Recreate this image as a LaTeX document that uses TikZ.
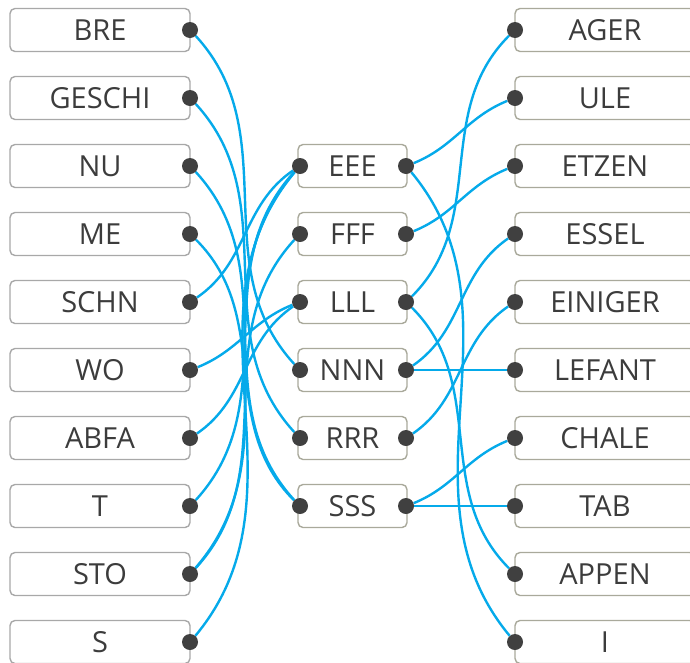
\documentclass[tikz,border=0pt]{standalone}
\usepackage{fontspec}
\setmainfont{Open Sans}
\definecolor{linec}{HTML}{05AAEA}
\definecolor{dotc}{HTML}{404040}
\definecolor{lgray}{HTML}{A8A8A8}
\definecolor{ogray}{HTML}{A9A99B}
\definecolor{txt}{HTML}{3C3C3C}
\pgfdeclarelayer{bg}
\pgfsetlayers{bg,main}
\tikzset{
  boxbase/.style={rounded corners=5pt, line width=1.4pt, minimum height=43pt, inner sep=0pt, text=txt, font=\fontsize{29}{32}\selectfont},
  lbox/.style={boxbase, draw=lgray, minimum width=180pt},
  mbox/.style={boxbase, draw=ogray, minimum width=109pt},
  rbox/.style={boxbase, draw=ogray, minimum width=180pt},
  dotn/.style={circle, fill=dotc, minimum size=16pt, inner sep=0pt},
  conn/.style={draw=linec, line width=2.4pt},
}
\newcommand\lnk[2]{%
  \path (#1); \pgfgetlastxy\lkxa\lkya
  \path (#2); \pgfgetlastxy\lkxb\lkyb
  \pgfmathsetmacro\lkang{atan2(\lkyb-\lkya,\lkxb-\lkxa)}%
  \pgfmathsetmacro\lkout{-0.36*\lkang}%
  \pgfmathsetmacro\lkin{180-0.36*\lkang}%
  \draw[conn] (#1) to[out=\lkout,in=\lkin,relative] (#2);%
}
\begin{document}
\begin{tikzpicture}[x=1pt,y=-1pt]
\useasboundingbox (0,0) rectangle (690,662);
\clip (0,0) rectangle (690,662);
\foreach \t [count=\i from 0] in {BRE,GESCHI,NU,ME,SCHN,WO,ABFA,T,STO,S} {
  \node[lbox] (L\i) at (100,30+68*\i) {\t};
  \node[dotn] (Ld\i) at (190,30+68*\i) {};
}
\foreach \t [count=\i from 2] in {EEE,FFF,LLL,NNN,RRR,SSS} {
  \node[mbox] (M\i) at (352.5,30+68*\i) {\t};
  \node[dotn] (Ma\i) at (300,30+68*\i) {};
  \node[dotn] (Mb\i) at (406,30+68*\i) {};
}
\foreach \t [count=\i from 0] in {AGER,ULE,ETZEN,ESSEL,EINIGER,LEFANT,CHALE,TAB,APPEN,I} {
  \node[rbox] (R\i) at (605,30+68*\i) {\t};
  \node[dotn] (Rd\i) at (515,30+68*\i) {};
}
\begin{pgfonlayer}{bg}
\lnk{Ld0}{Ma5}
\lnk{Ld1}{Ma6}
\lnk{Ld2}{Ma7}
\lnk{Ld3}{Ma7}
\lnk{Ld4}{Ma2}
\lnk{Ld5}{Ma4}
\lnk{Ld6}{Ma4}
\lnk{Ld7}{Ma2}
\lnk{Ld8}{Ma3}
\lnk{Ld8}{Ma2}
\lnk{Ld9}{Ma2}
\lnk{Mb2}{Rd1}
\lnk{Mb2}{Rd9}
\lnk{Mb3}{Rd2}
\lnk{Mb4}{Rd0}
\lnk{Mb4}{Rd8}
\lnk{Mb5}{Rd3}
\lnk{Mb5}{Rd5}
\lnk{Mb6}{Rd4}
\lnk{Mb7}{Rd6}
\lnk{Mb7}{Rd7}
\end{pgfonlayer}
\end{tikzpicture}
\end{document}
